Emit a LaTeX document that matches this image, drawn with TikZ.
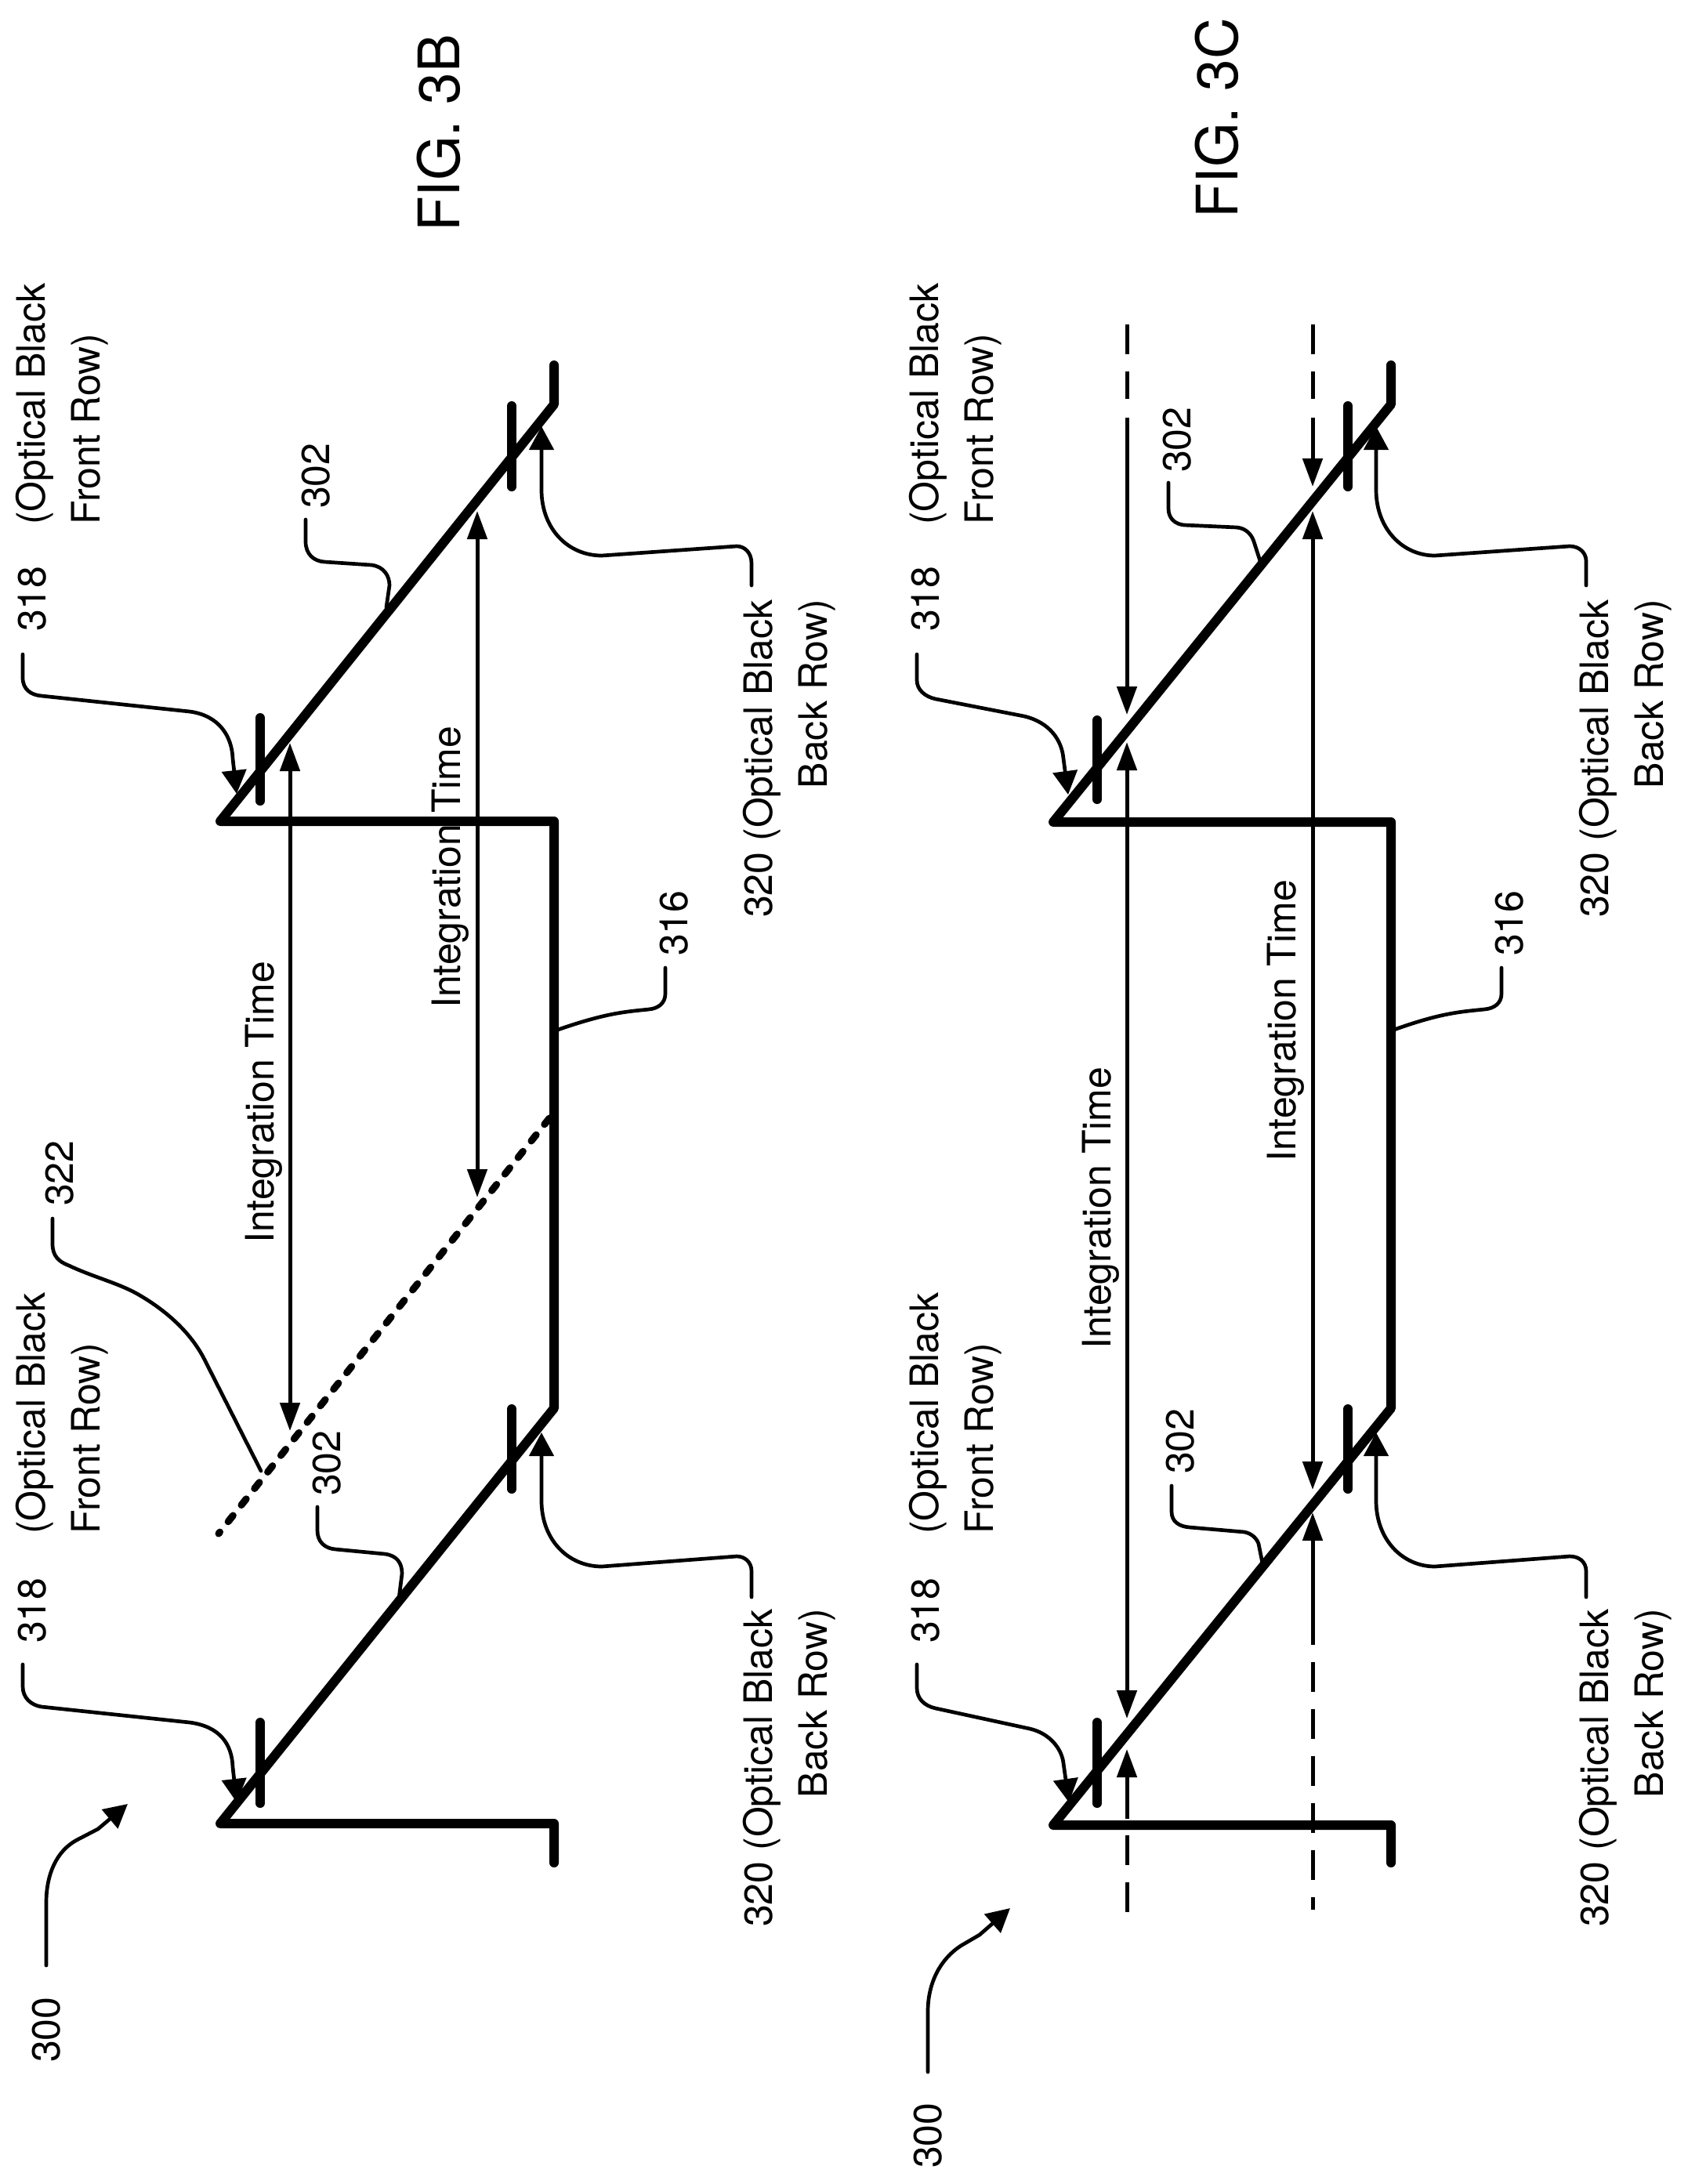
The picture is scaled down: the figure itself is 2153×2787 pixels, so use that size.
\documentclass[tikz,border=0pt]{standalone}
\usepackage{fontspec}
\setmainfont{TeX Gyre Heros}
\usetikzlibrary{arrows.meta}
\tikzset{
  wave/.style={line width=12pt,line cap=round,line join=round},
  tickmark/.style={line width=12pt,line cap=round},
  leader/.style={line width=4.7pt,line cap=round,line join=round},
  tipped/.style={-{Triangle[length=30pt,width=31pt]}},
  span/.style={line width=5pt,{Triangle[length=36pt,width=25pt]}-{Triangle[length=36pt,width=25pt]}},
  pointer/.style={line width=5pt,-{Triangle[length=36pt,width=25pt]}},
  brokenline/.style={line width=5pt,line cap=butt,dash pattern=on 38pt off 22pt},
  shortdash/.style={line width=9pt,line cap=round,dash pattern=on 10pt off 17pt},
  numlabel/.style={rotate=90,inner sep=0pt,anchor=base west,font=\fontsize{50}{70}\selectfont},
  figlabel/.style={rotate=90,inner sep=0pt,anchor=base west,font=\fontsize{73}{80}\selectfont},
  frontlabel/.style={rotate=90,inner sep=0pt,anchor=south west,align=left,font=\fontsize{50}{70}\selectfont},
  backlabel/.style={rotate=90,inner sep=0pt,anchor=south east,align=right,font=\fontsize{50}{70}\selectfont}
}
\begin{document}
\begin{tikzpicture}[x=1pt,y=-1pt]
\useasboundingbox (0,0) rectangle (2153,2787);

%% ---------- FIG. 3B ----------
\node[figlabel] (figB) at (586,296) {FIG. 3B};
\coordinate (ba) at (707,466); \coordinate (bb) at (707,516); \coordinate (bc) at (281,1048);
\coordinate (bd) at (707,1048); \coordinate (be) at (707,1797); \coordinate (bf) at (281,2327);
\coordinate (bg) at (707,2327); \coordinate (bh) at (707,2377);
\draw[wave] (ba) -- (bb) -- (bc) -- (bd) -- (be) -- (bf) -- (bg) -- (bh);
\draw[tickmark] (653,518) -- (653,621);
\draw[tickmark] (332,916) -- (332,1022);
\draw[tickmark] (653,1798) -- (653,1900);
\draw[tickmark] (332,2198) -- (332,2301);

% dashed line 322
\coordinate (dA) at (701,1427); \coordinate (dB) at (279,1957);
\draw[shortdash] (dA) -- (dB);

% integration spans
\coordinate (i1a) at (370,948); \coordinate (i1b) at (370,1826);
\coordinate (i2a) at (609,652); \coordinate (i2b) at (609,1528);
\draw[span] (i1a) -- (i1b);
\draw[span] (i2a) -- (i2b);
\node[numlabel] (tB1) at (349,1587) {Integration Time};
\node[numlabel] (tB2) at (587,1287) {Integration Time};

% labels
\node[numlabel] (b300) at (76,2632) {300};
\node[numlabel] (b318a) at (58,806) {318};
\node[numlabel] (b318b) at (58,2097) {318};
\node[numlabel] (b302a) at (420,649) {302};
\node[numlabel] (b302b) at (434,1909) {302};
\node[numlabel] (b316) at (877,1220) {316};
\node[numlabel] (b322) at (93,1539) {322};
\node[frontlabel] (bfa) at (138.5,670) {(Optical Black\\Front Row)};
\node[frontlabel] (bfb) at (138.5,1958) {(Optical Black\\Front Row)};
\node[backlabel] (bra) at (1066.5,765) {320 (Optical Black\\Back Row)};
\node[backlabel] (brb) at (1066.5,2053) {320 (Optical Black\\Back Row)};

% leaders
\draw[leader,tipped] (59,2508) -- (59,2428) .. controls (59,2392) and (72,2362) .. (98,2348) -- (125,2334) -- (163,2302);
\draw[leader,tipped] (29,835) -- (29,865) .. controls (29,880) and (40,887) .. (53,888) -- (242,908) .. controls (280,913) and (296,940) .. (297,968) -- (302,1013);
\draw[leader,tipped] (29,2124) -- (29,2152) .. controls (29,2167) and (40,2176) .. (53,2178) -- (242,2198) .. controls (280,2203) and (296,2225) .. (297,2255) -- (302,2300);
\draw[leader] (390,663) -- (390,691) .. controls (390,707) and (400,716) .. (414,717) -- (474,721) .. controls (490,723) and (497,735) .. (497,747) -- (493,775);
\draw[leader] (405,1923) -- (405,1953) .. controls (405,1968) and (415,1976) .. (428,1977) -- (491,1983) .. controls (507,1985) and (513,1995) .. (513,2008) -- (509,2040);
\draw[leader] (849,1235) -- (849,1268) .. controls (849,1280) and (840,1287) .. (828,1288) .. controls (800,1291) and (775,1292) .. (712,1314);
\draw[leader] (67,1555) -- (67,1587) .. controls (67,1603) and (75,1610) .. (88,1615) .. controls (120,1630) and (150,1637) .. (175,1651) .. controls (205,1668) and (240,1695) .. (260,1733) -- (333,1877);
\draw[leader,tipped] (959,747) -- (959,719) .. controls (959,705) and (950,697) .. (940,697) -- (768,709) .. controls (725,709) and (691,675) .. (691,625) -- (691,544);
\draw[leader,tipped] (959,2038) -- (959,2005) .. controls (959,1993) and (950,1986) .. (940,1986) -- (768,1999) .. controls (725,1999) and (691,1965) .. (691,1915) -- (691,1828);

%% ---------- FIG. 3C ----------
\node[figlabel] (figC) at (1579,279) {FIG. 3C};
\coordinate (ca) at (1775,466); \coordinate (cb) at (1775,516); \coordinate (cc) at (1344,1049);
\coordinate (cd) at (1775,1049); \coordinate (ce) at (1775,1797); \coordinate (cf) at (1344,2329);
\coordinate (cg) at (1775,2329); \coordinate (ch) at (1775,2377);
\draw[wave] (ca) -- (cb) -- (cc) -- (cd) -- (ce) -- (cf) -- (cg) -- (ch);
\draw[tickmark] (1720,518) -- (1720,621);
\draw[tickmark] (1400,919) -- (1400,1020);
\draw[tickmark] (1720,1798) -- (1720,1900);
\draw[tickmark] (1400,2198) -- (1400,2301);

% broken and solid measure lines, left
\coordinate (a1) at (1438,414); \coordinate (a2) at (1438,509);
\coordinate (a3) at (1438,533); \coordinate (a4) at (1438,912);
\coordinate (a5) at (1438,947); \coordinate (a6) at (1438,2193);
\coordinate (a7) at (1438,2321); \coordinate (a8) at (1438,2232);
\coordinate (a9) at (1438,2342); \coordinate (a10) at (1438,2440);
\draw[brokenline] (a1) -- (a2);
\draw[pointer] (a3) -- (a4);
\draw[span] (a5) -- (a6);
\draw[pointer] (a7) -- (a8);
\draw[brokenline] (a9) -- (a10);

% broken and solid measure lines, right
\coordinate (c1) at (1675,414); \coordinate (c2) at (1675,509);
\coordinate (c3) at (1675,533); \coordinate (c4) at (1675,621);
\coordinate (c5) at (1675,652); \coordinate (c6) at (1675,1901);
\coordinate (c7) at (1675,2099); \coordinate (c8) at (1675,1930);
\coordinate (c9) at (1675,2121); \coordinate (c10) at (1675,2437);
\draw[brokenline] (c1) -- (c2);
\draw[pointer] (c3) -- (c4);
\draw[span] (c5) -- (c6);
\draw[pointer] (c7) -- (c8);
\draw[brokenline] (c9) -- (c10);

\node[numlabel] (tC1) at (1417,1722) {Integration Time};
\node[numlabel] (tC2) at (1653.5,1483) {Integration Time};

% labels
\node[numlabel] (c300) at (1201,2767) {300};
\node[numlabel] (c318a) at (1198,806) {318};
\node[numlabel] (c318b) at (1198,2097) {318};
\node[numlabel] (c302a) at (1519,603) {302};
\node[numlabel] (c302b) at (1523,1881) {302};
\node[numlabel] (c316) at (1943,1220) {316};
\node[frontlabel] (cfa) at (1278.5,670) {(Optical Black\\Front Row)};
\node[frontlabel] (cfb) at (1278.5,1958) {(Optical Black\\Front Row)};
\node[backlabel] (cra) at (2133.5,765) {320 (Optical Black\\Back Row)};
\node[backlabel] (crb) at (2133.5,2053) {320 (Optical Black\\Back Row)};

% leaders
\draw[leader,tipped] (1184,2644) -- (1184,2567) .. controls (1184,2530) and (1200,2500) .. (1226,2483) -- (1250,2469) -- (1289,2435);
\draw[leader,tipped] (1170,835) -- (1170,868) .. controls (1170,880) and (1180,889) .. (1194,892) -- (1307,914) .. controls (1340,922) and (1355,945) .. (1357,968) -- (1363,1014);
\draw[leader,tipped] (1170,2124) -- (1170,2154) .. controls (1170,2168) and (1180,2177) .. (1194,2180) -- (1314,2206) .. controls (1340,2212) and (1355,2232) .. (1357,2250) -- (1364,2300);
\draw[leader] (1491,616) -- (1491,649) .. controls (1491,662) and (1500,669) .. (1511,670) -- (1578,673) .. controls (1590,674) and (1597,682) .. (1600,691) -- (1608,716);
\draw[leader] (1495,1896) -- (1495,1929) .. controls (1495,1942) and (1505,1948) .. (1518,1949) -- (1588,1955) .. controls (1598,1957) and (1604,1964) .. (1606,1970) -- (1611,1995);
\draw[leader] (1916,1235) -- (1916,1268) .. controls (1916,1280) and (1907,1287) .. (1894,1288) .. controls (1866,1291) and (1840,1292) .. (1779,1314);
\draw[leader,tipped] (2024,747) -- (2024,716) .. controls (2024,705) and (2015,697) .. (2003,697) -- (1831,709) .. controls (1790,709) and (1756,675) .. (1756,625) -- (1756,544);
\draw[leader,tipped] (2024,2038) -- (2024,2005) .. controls (2024,1993) and (2015,1986) .. (2003,1986) -- (1831,1999) .. controls (1790,1999) and (1756,1965) .. (1756,1915) -- (1756,1828);
\end{tikzpicture}
\end{document}
